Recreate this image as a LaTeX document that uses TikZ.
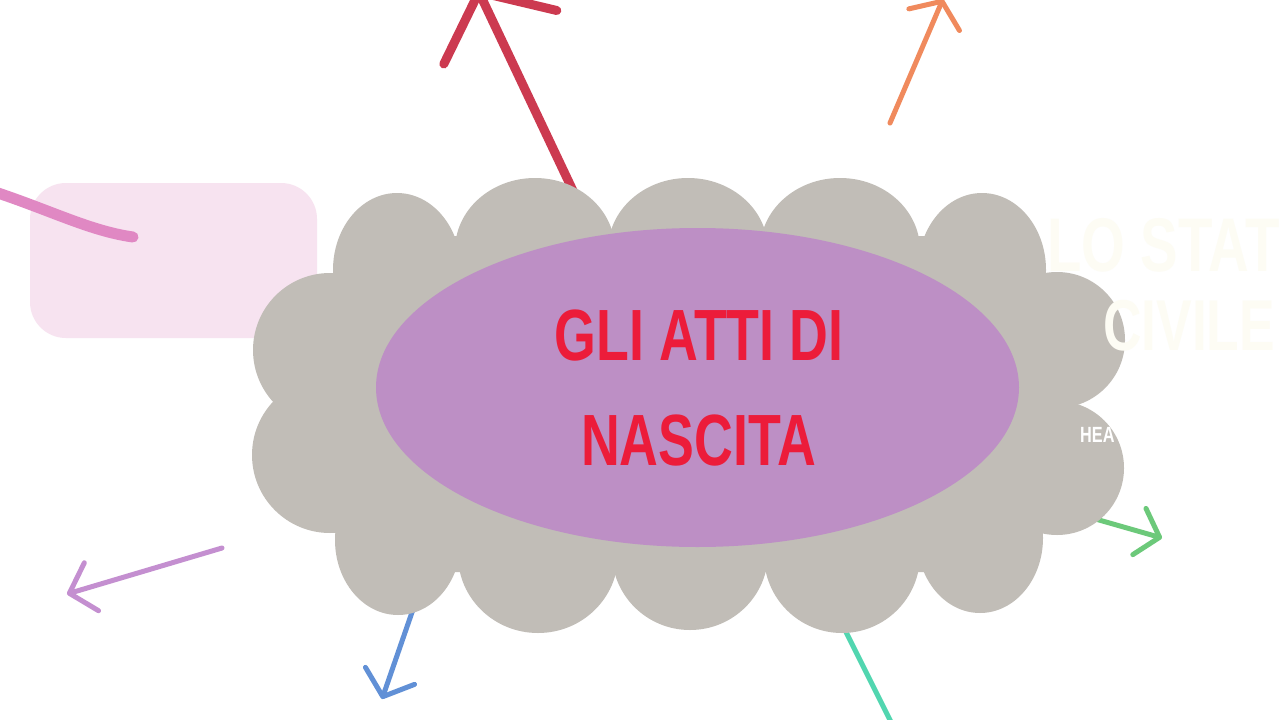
\documentclass[tikz,border=0pt]{standalone}
\usepackage{fontspec}
\usepackage{tikz}
\usetikzlibrary{positioning,shapes.geometric,arrows.meta}

\newfontfamily\postfont{Liberation Sans Bold}[FakeStretch=0.74]

\definecolor{cloudgrey}{HTML}{C1BDB7}
\definecolor{corepurple}{HTML}{BD8FC5}
\definecolor{titlered}{HTML}{EC1C3A}
\definecolor{notepink}{HTML}{F7E3F0}
\definecolor{penpink}{HTML}{E088C3}
\definecolor{penred}{HTML}{CC3A50}
\definecolor{penorange}{HTML}{F08A5D}
\definecolor{penlilac}{HTML}{C48FD0}
\definecolor{penblue}{HTML}{6190D6}
\definecolor{penteal}{HTML}{52D6B0}
\definecolor{pengreen}{HTML}{6CC97A}
\definecolor{ghost}{RGB}{253,252,244}

\begin{document}
\begin{tikzpicture}[
		x=1pt, y=-1pt
		,every node/.append style={inner sep=0pt}
		,cloud/.style={fill=cloudgrey}
		,pen/.style={line width=#1, line cap=round, line join=round}
		,barb/.style 2 args={-{Straight Barb[length=#1pt, width=#2pt, round]}}
		,title/.style={text=titlered, font=\postfont\fontsize{72.6}{80}\selectfont, anchor=base}
		,faded/.style={text=ghost, font=\postfont\fontsize{#1}{80}\selectfont, anchor=base west}
	]
		\useasboundingbox (0,0) rectangle (1280,720);
		\clip (0,0) rectangle (1280,720);
		\fill[white] (0,0) rectangle (1280,720);

		% note card on the left
		\node [fill=notepink, rounded corners=36pt, minimum width=287pt, minimum height=155pt] (note) at (173.5,260.5) {};
		\coordinate (pinkA) at (-8,191);
		\coordinate (pinkB) at (133,237);
		\draw [pen=11pt, penpink] (pinkA) .. controls (50,210) and (90,231) .. (pinkB);

		% strokes leaving the cloud
		\coordinate (redtail) at (575,195);
		\coordinate (redtip) at (477,-12);
		\draw [pen=9pt, penred, barb={50}{125}] (redtail) -- (redtip);
		\coordinate (orangetail) at (890,123);
		\coordinate (orangetip) at (943,-1);
		\draw [pen=5pt, penorange, barb={20}{55}] (orangetail) -- (orangetip);
		\coordinate (lilactail) at (222,548);
		\coordinate (lilactip) at (67,594);
		\draw [pen=5pt, penlilac, barb={23}{50}] (lilactail) -- (lilactip);
		\coordinate (bluetail) at (418,595);
		\coordinate (bluetip) at (382,699);
		\draw [pen=5pt, penblue, barb={22}{52}] (bluetail) -- (bluetip);
		\coordinate (tealtail) at (840,620);
		\coordinate (tealend) at (895,730);
		\draw [pen=5pt, penteal] (tealtail) -- (tealend);
		\coordinate (greentail) at (1085,516);
		\coordinate (greentip) at (1162,538);
		\draw [pen=5pt, pengreen, barb={21}{48}] (greentail) -- (greentip);

		% scalloped cloud
		\fill[cloud] (345,236) -- (1035,236) -- (1040,270) -- (1065,300) -- (1065,510) -- (1040,530)
			-- (1035,572) -- (345,572) -- (340,530) -- (300,510) -- (300,300) -- (335,275) -- cycle;
		\foreach \cx/\cy/\rx/\ry in {397/270/64/77, 535/250/80/72, 688/250/80/72, 840/250/80/72, 982/270/64/77,
			330/350/77/77, 330/455/78/78, 1057/340/68/68, 1057/468/67/67,
			398/540/63/75, 538/555/80/78, 690/553/78/77, 842/555/78/78, 980/538/63/75}
			\fill[cloud] (\cx,\cy) ellipse [x radius=\rx, y radius=\ry];

		\node [ellipse, fill=corepurple, minimum width=643pt, minimum height=319pt] (core) at (697.5,387.5) {};
		\node [title] (titleA) at (699,360) {GLI ATTI DI};
		\node [title] (titleB) at (698.5,465) {NASCITA};

		% next slide fading in
		\node [faded=76] (nextA) at (1047,271) {LO STAT};
		\node [faded=72] (nextB) at (1103,350) {CIVILE};
		\node [text=white, font=\postfont\fontsize{22}{24}\selectfont, anchor=base west] (head) at (1080,442) {HEA};
	\end{tikzpicture}
\end{document}
